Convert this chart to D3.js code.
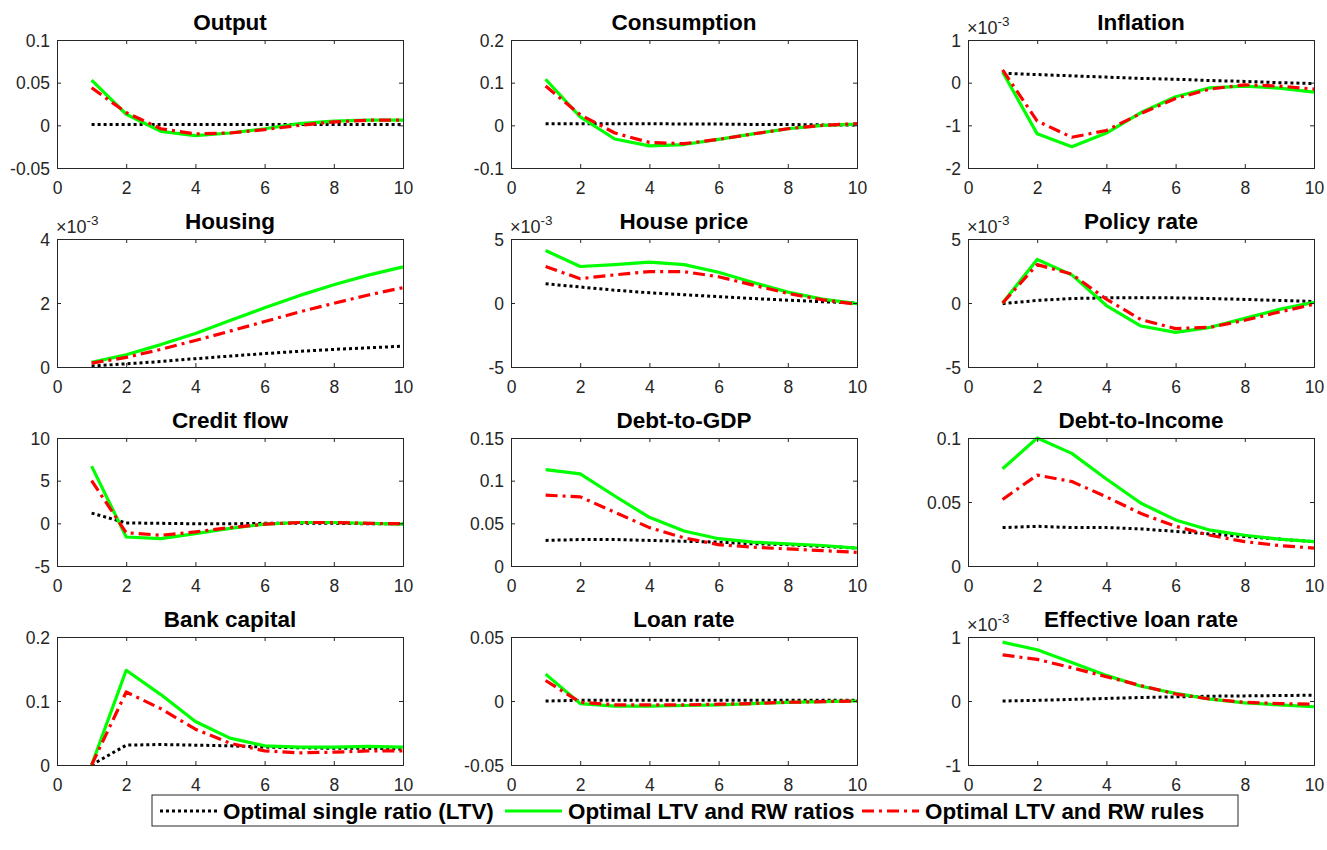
<!DOCTYPE html>
<html>
<head>
<meta charset="utf-8">
<script src="https://cdn.jsdelivr.net/npm/d3@7"></script>
<style>
body{margin:0;background:#fff;}
text{font-family:"Liberation Sans",Arial,sans-serif;}
</style>
</head>
<body>
<svg id="chart" width="1327" height="850"></svg>
<script>
var periods=[1,2,3,4,5,6,7,8,9,10];

var titles=["Output","Consumption","Inflation","Housing","House price","Policy rate",
            "Credit flow","Debt-to-GDP","Debt-to-Income","Bank capital","Loan rate","Effective loan rate"];

// y ranges and ticks as shown on each panel (values in displayed units)
var yDomains=[[-0.05,0.1],[-0.1,0.2],[-2,1],[0,4],[-5,5],[-5,5],
              [-5,10],[0,0.15],[0,0.1],[0,0.2],[-0.05,0.05],[-1,1]];
var yTicks=[[-0.05,0,0.05,0.1],[-0.1,0,0.1,0.2],[-2,-1,0,1],[0,2,4],[-5,0,5],[-5,0,5],
            [-5,0,5,10],[0,0.05,0.1,0.15],[0,0.05,0.1],[0,0.1,0.2],[-0.05,0,0.05],[-1,0,1]];
var exps=[0,0,-3,-3,-3,-3,0,0,0,0,0,-3];
var xTicks=[0,2,4,6,8,10];

// Optimal single ratio (LTV)
var single=[
 [0.001,0.001,0.001,0.001,0.001,0.001,0.001,0.001,0.001,0.001],
 [0.004,0.004,0.004,0.004,0.003,0.003,0.002,0.002,0.001,0.001],
 [0.22,0.19,0.16,0.13,0.10,0.08,0.05,0.03,0.00,-0.02],
 [0.03,0.10,0.17,0.26,0.34,0.42,0.49,0.55,0.60,0.65],
 [1.5,1.25,1.0,0.8,0.65,0.5,0.35,0.22,0.1,0.0],
 [-0.05,0.2,0.35,0.4,0.42,0.4,0.35,0.28,0.2,0.12],
 [1.2,0.05,0.0,-0.05,-0.05,0.0,0.0,0.0,-0.05,-0.05],
 [0.030,0.031,0.031,0.030,0.029,0.028,0.026,0.025,0.023,0.021],
 [0.030,0.031,0.030,0.030,0.029,0.027,0.025,0.023,0.021,0.019],
 [0.0,0.031,0.032,0.031,0.030,0.028,0.027,0.026,0.026,0.025],
 [0.0,0.0005,0.0005,0.0005,0.0005,0.0005,0.0005,0.0005,0.0005,0.0005],
 [0.0,0.01,0.025,0.04,0.055,0.065,0.075,0.08,0.085,0.09]
];

// Optimal LTV and RW ratios
var ratios=[
 [0.053,0.013,-0.007,-0.012,-0.009,-0.004,0.002,0.005,0.006,0.006],
 [0.108,0.020,-0.032,-0.048,-0.045,-0.033,-0.020,-0.008,0.000,0.003],
 [0.25,-1.2,-1.5,-1.18,-0.7,-0.33,-0.12,-0.08,-0.13,-0.22],
 [0.15,0.38,0.70,1.05,1.45,1.85,2.23,2.57,2.87,3.13],
 [4.1,2.85,3.0,3.2,3.0,2.4,1.6,0.85,0.3,-0.05],
 [0.0,3.4,2.2,-0.2,-1.8,-2.3,-1.9,-1.2,-0.5,0.05],
 [6.7,-1.6,-1.8,-1.2,-0.6,-0.1,0.1,0.1,0.0,-0.1],
 [0.113,0.108,0.082,0.057,0.041,0.032,0.028,0.026,0.024,0.021],
 [0.076,0.100,0.088,0.068,0.049,0.036,0.028,0.024,0.021,0.019],
 [0.0,0.148,0.110,0.068,0.042,0.030,0.028,0.028,0.029,0.028],
 [0.021,-0.002,-0.004,-0.004,-0.0035,-0.003,-0.002,-0.001,-0.0005,0.0],
 [0.92,0.80,0.60,0.40,0.23,0.12,0.03,-0.03,-0.06,-0.09]
];

// Optimal LTV and RW rules
var rules=[
 [0.044,0.015,-0.004,-0.010,-0.009,-0.005,0.000,0.004,0.006,0.006],
 [0.092,0.025,-0.018,-0.040,-0.043,-0.033,-0.020,-0.008,0.000,0.004],
 [0.3,-0.9,-1.28,-1.12,-0.72,-0.37,-0.15,-0.05,-0.08,-0.15],
 [0.12,0.30,0.55,0.83,1.12,1.42,1.72,1.99,2.25,2.48],
 [2.85,1.9,2.2,2.45,2.45,2.05,1.4,0.75,0.25,-0.1],
 [0.0,3.0,2.25,0.3,-1.3,-2.0,-1.9,-1.35,-0.7,-0.1],
 [5.0,-1.1,-1.4,-1.0,-0.5,-0.1,0.1,0.1,0.0,-0.05],
 [0.083,0.081,0.063,0.045,0.033,0.025,0.022,0.020,0.018,0.016],
 [0.052,0.071,0.066,0.054,0.041,0.031,0.024,0.019,0.016,0.014],
 [0.0,0.114,0.088,0.056,0.034,0.022,0.019,0.020,0.022,0.022],
 [0.016,-0.001,-0.003,-0.003,-0.003,-0.0025,-0.002,-0.001,-0.0005,0.0],
 [0.72,0.65,0.52,0.38,0.24,0.11,0.03,-0.02,-0.04,-0.05]
];

var seriesNames=["Optimal single ratio (LTV)","Optimal LTV and RW ratios","Optimal LTV and RW rules"];

var styles=[
  {color:"#000",dash:"3,3",width:3},
  {color:"#00ff00",dash:null,width:3.2},
  {color:"#ff0000",dash:"12,5,3,5",width:3.2}
];

var svg=d3.select("#chart");
var colX=[57,511,968], rowY=[40,239,438,637];
var pw=346, ph=128;
var axcol="#262626";

function fmt(v){
  if(v==0) return "0";
  return String(+v.toFixed(4));
}

titles.forEach(function(t,i){
  var gx=colX[i%3], gy=rowY[Math.floor(i/3)];
  var g=svg.append("g").attr("transform","translate("+gx+","+gy+")");
  var x=d3.scaleLinear().domain([0,10]).range([0,pw]);
  var y=d3.scaleLinear().domain(yDomains[i]).range([ph,0]);

  var defs=g.append("clipPath").attr("id","clip"+i);
  defs.append("rect").attr("x",-2).attr("y",-2).attr("width",pw+4).attr("height",ph+4);

  var line=d3.line().x(function(d,k){return x(periods[k]);}).y(function(d){return y(d);});
  var plot=g.append("g").attr("clip-path","url(#clip"+i+")");
  [single[i],ratios[i],rules[i]].forEach(function(s,si){
    var st=styles[si];
    plot.append("path").datum(s)
      .attr("d",line)
      .attr("fill","none")
      .attr("stroke",st.color)
      .attr("stroke-width",st.width)
      .attr("stroke-dasharray",st.dash)
      .attr("stroke-linejoin","round");
  });

  // axes: ticks inward on all sides
  var bottom=g.append("g").attr("transform","translate(0,"+ph+")")
     .call(d3.axisBottom(x).tickValues(xTicks).tickSize(-4).tickPadding(14).tickFormat(fmt));
  var top=g.append("g").call(d3.axisTop(x).tickValues(xTicks).tickSize(-4).tickFormat(""));
  var left=g.append("g")
     .call(d3.axisLeft(y).tickValues(yTicks[i]).tickSize(-4).tickPadding(7).tickFormat(fmt));
  var right=g.append("g").attr("transform","translate("+pw+",0)")
     .call(d3.axisRight(y).tickValues(yTicks[i]).tickSize(-4).tickFormat(""));
  [bottom,top,left,right].forEach(function(a){
    a.selectAll("path").attr("stroke",axcol).attr("stroke-width",1);
    a.selectAll("line").attr("stroke",axcol).attr("stroke-width",1);
    a.selectAll("text").attr("fill",axcol).style("font-size","17.5px").style("font-family","Liberation Sans, Arial, sans-serif");
  });
  bottom.selectAll("text").attr("dy","0.71em");
  left.selectAll("text").attr("dy","0.35em");

  g.append("text")
    .attr("x",pw/2).attr("y",-10)
    .attr("text-anchor","middle")
    .style("font-size","22.5px").style("font-weight","bold")
    .attr("fill","#000")
    .text(t);

  if(exps[i]!=0){
    var et=g.append("text").attr("x",-1).attr("y",-6).attr("fill",axcol).style("font-size","18px");
    et.append("tspan").text("\u00d710");
    et.append("tspan").attr("dy",-8).style("font-size","13.5px").text(exps[i]);
  }
});

// legend
var lg=svg.append("g").attr("transform","translate(152,795)");
lg.append("rect").attr("width",1086).attr("height",31)
  .attr("fill","#fff").attr("stroke",axcol).attr("stroke-width",1);
var legX=[8,353,710];
seriesNames.forEach(function(n,si){
  var st=styles[si];
  var item=lg.append("g").attr("transform","translate("+legX[si]+",16)");
  item.append("line").attr("x1",0).attr("x2",57).attr("y1",0).attr("y2",0)
    .attr("stroke",st.color).attr("stroke-width",st.width)
    .attr("stroke-dasharray",st.dash);
  item.append("text").attr("x",63).attr("dy","0.35em")
    .style("font-size","22.4px").style("font-weight","bold").attr("fill","#000")
    .text(n);
});
</script>
</body>
</html>
